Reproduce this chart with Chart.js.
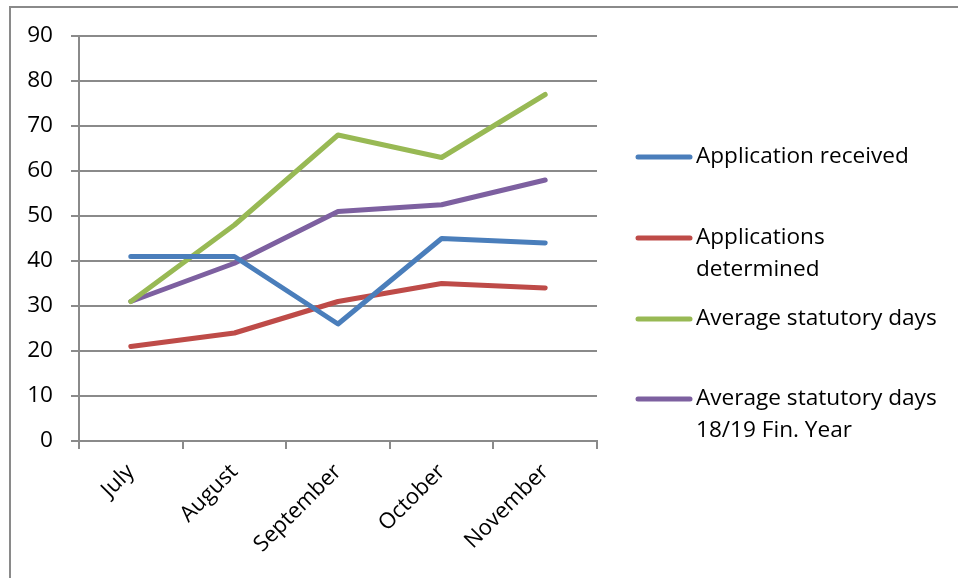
<!DOCTYPE html>
<html><head><meta charset="utf-8">
<script src="https://cdn.jsdelivr.net/npm/chart.js@4/dist/chart.umd.min.js"></script>
<style>html,body{margin:0;padding:0;background:#fff}#wrap{width:958px;height:578px;position:relative}</style>
</head><body><div id="wrap"><canvas id="c" width="958" height="578"></canvas></div>
<script>
const months = ["July","August","September","October","November"];
const yTicks = [0,10,20,30,40,50,60,70,80,90];
const seriesNames = ["Application received","Applications determined","Average statutory days","Average statutory days 18/19 Fin. Year"];
const legendLines = [["Application received"],["Applications","determined"],["Average statutory days"],["Average statutory days","18/19 Fin. Year"]];
const applicationReceived = [41,41,26,45,44];
const applicationsDetermined = [21,24,31,35,34];
const averageStatutoryDays = [31,48,68,63,77];
const averageStatutoryDays1819 = [31,39.5,51,52.5,58];
const colors = ["#4A7EBB","#BE4B48","#98B954","#7D60A0"];

const FONT = "'Open Sans', 'Liberation Sans', sans-serif";
const values = [applicationReceived, applicationsDetermined, averageStatutoryDays, averageStatutoryDays1819];

const borderPlugin = {
  id:'border',
  beforeDraw(chart){
    const ctx = chart.ctx;
    ctx.save();
    ctx.fillStyle='#fff';ctx.fillRect(0,0,chart.width,chart.height);
    ctx.strokeStyle='#8a8a8a';ctx.lineWidth=2;
    ctx.beginPath();
    ctx.moveTo(10,600);ctx.lineTo(10,7);ctx.lineTo(970,7);
    ctx.stroke();
    ctx.restore();
  }
};
const legendPlugin = {
  id:'customLegend',
  afterDraw(chart){
    const ctx = chart.ctx;
    const ys = [157,238,319,399];
    ctx.save();
    ctx.font = "22.6px " + FONT;
    ctx.textBaseline='middle';
    ctx.fillStyle='#000';
    chart.data.datasets.forEach((ds,i)=>{
      const y = ys[i];
      ctx.strokeStyle = ds.borderColor; ctx.lineWidth=5; ctx.lineCap='round';
      ctx.beginPath(); ctx.moveTo(638,y); ctx.lineTo(690,y); ctx.stroke();
      legendLines[i].forEach((t,k)=>{ ctx.fillText(t,696,y+k*32); });
    });
    ctx.restore();
  }
};

new Chart(document.getElementById('c'),{
  type:'line',
  data:{labels:months,datasets:values.map((v,i)=>({label:seriesNames[i],data:v,borderColor:colors[i],backgroundColor:colors[i],borderWidth:5,pointRadius:0,tension:0,borderCapStyle:'round',borderJoinStyle:'round'}))},
  options:{
    responsive:false,animation:false,
    layout:{padding:{left:0,right:361,top:36,bottom:0}},
    plugins:{legend:{display:false},tooltip:{enabled:false}},
    scales:{
      x:{offset:true,
        grid:{display:true,drawOnChartArea:false,offset:true,color:'#8a8a8a',lineWidth:2,tickLength:8},
        border:{color:'#8a8a8a',width:2},
        ticks:{color:'#000',font:{family:FONT,size:22},maxRotation:45,minRotation:45,padding:10},
        afterFit(s){s.height=137;}
      },
      y:{min:0,max:90,
        afterBuildTicks(s){s.ticks=yTicks.map(v=>({value:v}));},
        grid:{color:'#8a8a8a',lineWidth:2,tickLength:8},
        border:{color:'#8a8a8a',width:2},
        ticks:{color:'#000',font:{family:FONT,size:22.6},padding:18},
        afterFit(s){s.width=79;}
      }
    }
  },
  plugins:[borderPlugin,legendPlugin]
});
</script></body></html>
